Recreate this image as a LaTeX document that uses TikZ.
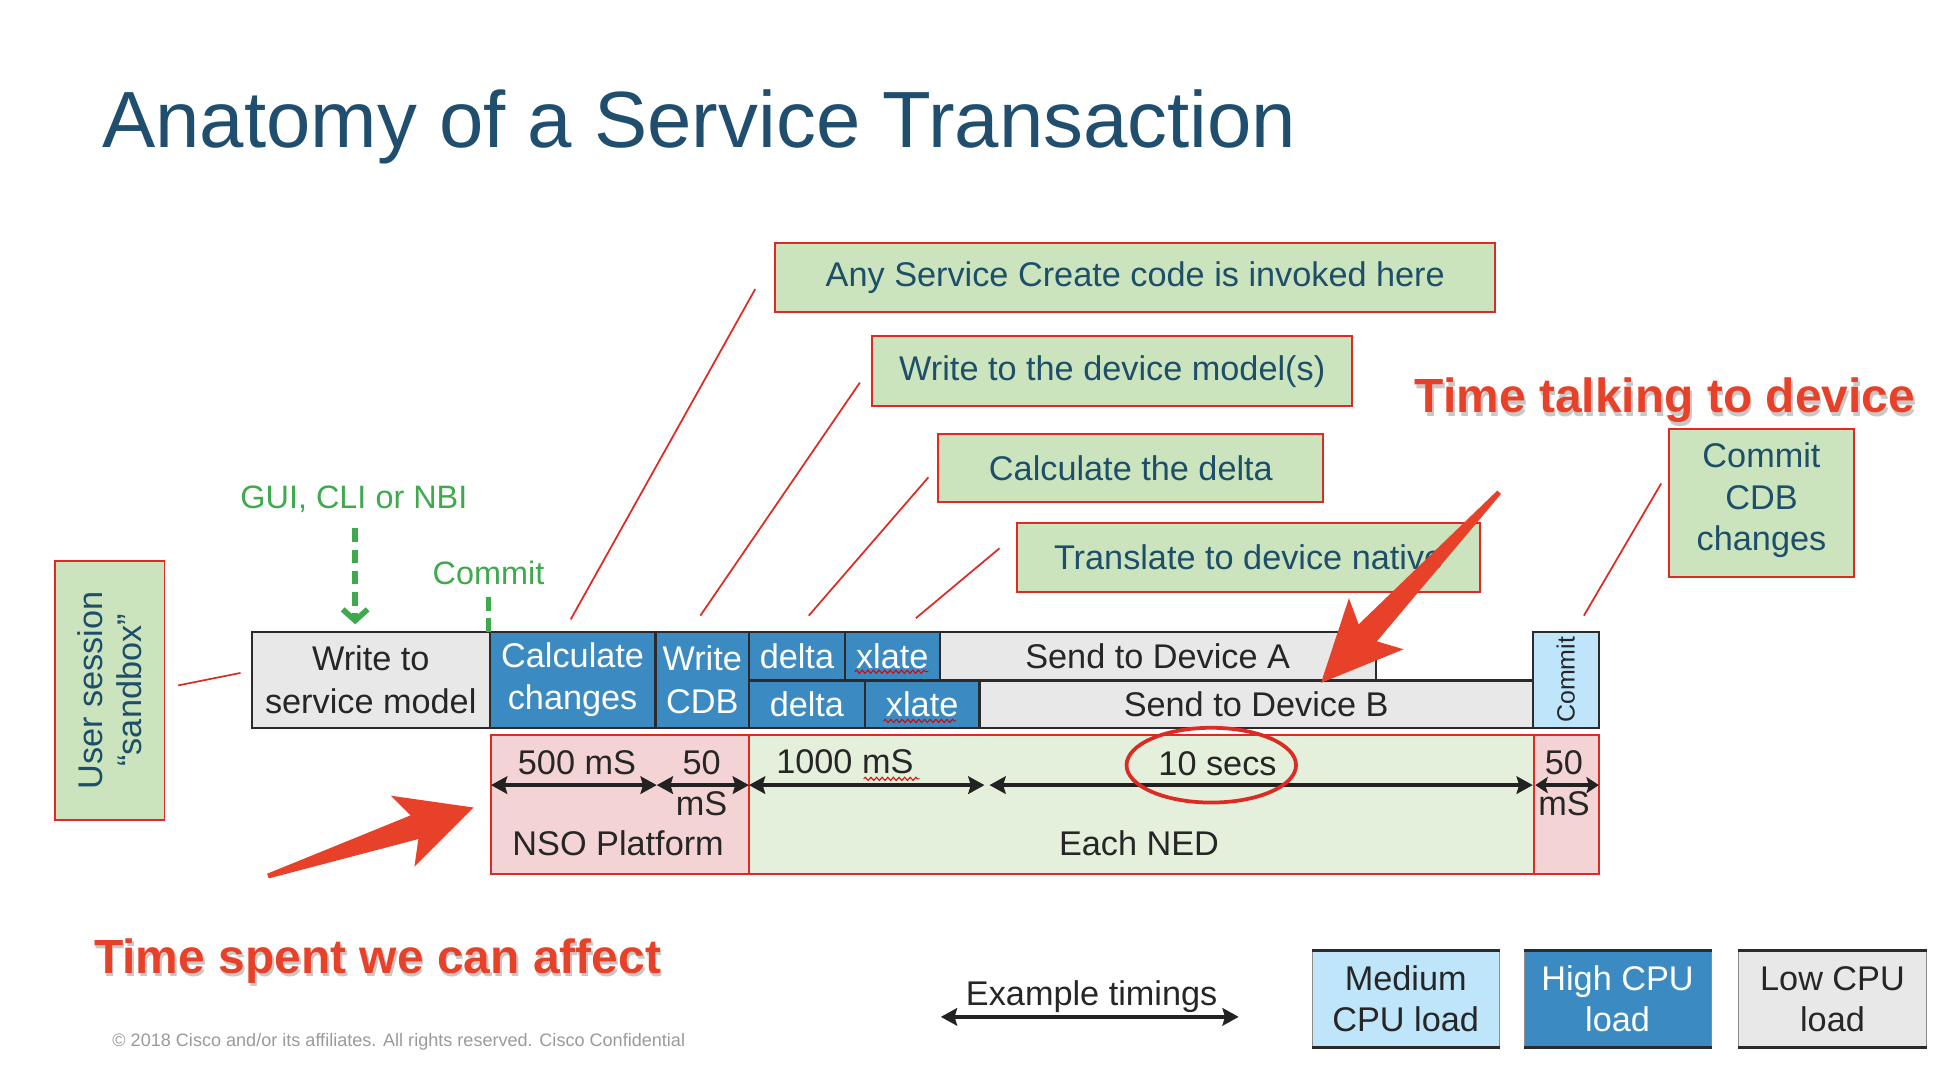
\documentclass[tikz,border=0pt]{standalone}
\usepackage{fontspec}
\usepackage{pdfrender}
\setmainfont{Liberation Sans}
\usetikzlibrary{arrows.meta,calc,decorations.pathmorphing,shapes.geometric}

\definecolor{titleblue}{HTML}{1F4E6E}
\definecolor{calloutgreen}{HTML}{CBE4BD}
\definecolor{calloutred}{HTML}{DD2A22}
\definecolor{callouttext}{HTML}{1D4F6A}
\definecolor{cpuhigh}{HTML}{3B8BC2}
\definecolor{cpumed}{HTML}{BEE5F9}
\definecolor{cpulow}{HTML}{E8E8E8}
\definecolor{boxline}{HTML}{2B2B2B}
\definecolor{panelpink}{HTML}{F3D3D3}
\definecolor{panelgreen}{HTML}{E4F0DB}
\definecolor{guigreen}{HTML}{3FA94D}
\definecolor{arrowred}{HTML}{E8412A}
\definecolor{timeblack}{HTML}{222222}
\definecolor{legalgrey}{HTML}{9A9A9A}
\definecolor{haloshadow}{HTML}{C8C8C8}

\newcommand\fsz[2]{\fontsize{#1}{#2}\selectfont}

% tapered red pointer: tail, tip, head length, notch distance, head half width, shaft half width
\newcommand\bigredarrow[6]{%
  \fill[arrowred]
    ($(#1)!2pt!90:(#2)$) --
    ($(#2)!#4!(#1)!#6!90:(#2)$) --
    ($(#2)!#3!(#1)!#5!90:(#2)$) --
    (#2) --
    ($(#2)!#3!(#1)!#5!-90:(#2)$) --
    ($(#2)!#4!(#1)!#6!-90:(#2)$) --
    ($(#1)!2pt!-90:(#2)$) -- cycle;}

% bold red lettering with a white halo and soft drop shadow
\newcommand\halotext[3]{%
  \node[halofont,text=haloshadow,xshift=1.5pt,yshift=-3pt] at #2
    {\textpdfrender{TextRenderingMode=FillStroke,LineWidth=7pt,LineJoin=1,StrokeColor=haloshadow}{#3}};
  \node[halofont,text=white] at #2
    {\textpdfrender{TextRenderingMode=FillStroke,LineWidth=7pt,LineJoin=1,StrokeColor=white}{#3}};
  \node[halofont,text=arrowred] (#1) at #2 {#3};}

\begin{document}
\begin{tikzpicture}[x=1pt,y=-1pt,
  callout/.style={draw=calloutred, line width=1.6pt, fill=calloutgreen,
    text=callouttext, font=\fsz{27.5}{33}, align=center, inner sep=0pt},
  leader/.style={draw=calloutred, line width=1.4pt},
  procbox/.style={draw=boxline, line width=1.8pt, inner sep=0pt,
    font=\fsz{27.5}{34}, align=center},
  lowbox/.style={procbox, fill=cpulow, text=black!85},
  highbox/.style={procbox, fill=cpuhigh, text=white},
  medbox/.style={procbox, fill=cpumed, text=black!85},
  timetext/.style={font=\fsz{27.5}{33}, text=black!85, inner sep=0pt},
  timearrow/.style={draw=timeblack, line width=3pt,
    {Stealth[length=13pt,width=14pt,inset=2pt]}-{Stealth[length=13pt,width=14pt,inset=2pt]}},
  halofont/.style={font=\fsz{38.5}{44}\bfseries, inner sep=0pt},
  squiggle/.style={draw=red!85!black, line width=0.8pt, decorate,
    decoration={snake, amplitude=1.3pt, segment length=4.5pt}},
  legendbox/.style={inner sep=0pt, font=\fsz{27.5}{33}, align=center,
    minimum width=150pt, minimum height=77pt, draw=black!45, line width=0.8pt},
]
\useasboundingbox (0,0) rectangle (1568,863);

% ---- title ----
\node[anchor=base west, inner sep=0pt, text=titleblue, font=\fsz{64}{72}]
  (title) at (82,118) {Anatomy of a Service Transaction};

% ---- callouts ----
\node[callout, minimum width=578pt, minimum height=55pt] (cCreate) at (911,222.5)
  {Any Service Create code is invoked here};
\node[callout, minimum width=385pt, minimum height=56pt] (cWrite) at (892.5,298)
  {Write to the device model(s)};
\node[callout, minimum width=309pt, minimum height=55pt] (cDelta) at (907.5,375.5)
  {Calculate the delta};
\node[callout, minimum width=372pt, minimum height=55pt] (cXlate) at (1002,447.5)
  {Translate to device native};
\node[callout, minimum width=149pt, minimum height=119pt, text depth=10pt] (cCommit) at (1413.5,403.5)
  {Commit\\CDB\\changes};
\node[callout, rotate=90, minimum width=208pt, minimum height=88pt, font=\fsz{27.5}{31}]
  (cSession) at (88,554) {User session\\“sandbox”};

% ---- process row ----
\node[lowbox, minimum width=191pt, minimum height=77pt] (pService) at (297.5,545.5)
  {Write to\\service model};
\node[highbox, minimum width=133pt, minimum height=77pt] (pCalc) at (459.5,545.5)
  {Calculate\\changes};
\node[highbox, minimum width=75pt, minimum height=77pt] (pCdb) at (563.5,545.5)
  {Write\\CDB};
\node[highbox, minimum width=77pt, minimum height=39pt] (pDeltaA) at (639.5,526.5) {delta};
\node[highbox, minimum width=76pt, minimum height=39pt] (pXlateA) at (716,526.5) {xlate};
\node[lowbox, minimum width=350pt, minimum height=39pt] (pSendA) at (929,526.5) {Send to Device A};
\node[highbox, minimum width=93pt, minimum height=38pt] (pDeltaB) at (647.5,565) {delta};
\node[highbox, minimum width=92pt, minimum height=38pt] (pXlateB) at (740,565) {xlate};
\node[lowbox, minimum width=444pt, minimum height=38pt] (pSendB) at (1008,565) {Send to Device B};
\node[medbox, minimum width=53pt, minimum height=77pt] (pCommit) at (1256.5,545.5) {};
\node[rotate=90, font=\fsz{20}{24}, text=black!85] (pCommitText) at (1256.5,545.5) {Commit};

% spell-check marks under the abbreviations
\draw[squiggle] (686,539) -- (745,539);
\draw[squiggle] (709,578.5) -- (767,578.5);

% ---- timing panel ----
\node[draw=calloutred, line width=1.6pt, fill=panelpink, minimum width=207pt,
  minimum height=111pt, inner sep=0pt] (tNso) at (497.5,645.5) {};
\node[draw=calloutred, line width=1.6pt, fill=panelgreen, minimum width=630pt,
  minimum height=111pt, inner sep=0pt] (tNed) at (916,645.5) {};
\node[draw=calloutred, line width=1.6pt, fill=panelpink, minimum width=52pt,
  minimum height=111pt, inner sep=0pt] (tCommit) at (1257,645.5) {};

\coordinate (a0) at (394,630);
\coordinate (a1) at (527,630);
\coordinate (a2) at (601,630);
\coordinate (a3) at (790,630);
\coordinate (a3b) at (794,630);
\coordinate (a4) at (1230,630);
\coordinate (a4b) at (1232,630);
\coordinate (a5) at (1283,630);
\draw[timearrow] (a0) -- (a1);
\draw[timearrow] (a1) -- (a2);
\draw[timearrow] (a2) -- (a3);
\draw[timearrow] (a3b) -- (a4);
\draw[timearrow, {Stealth[length=10pt,width=13pt,inset=2pt]}-{Stealth[length=10pt,width=13pt,inset=2pt]}] (a4b) -- (a5);

\node[timetext] (t500) at (463,612) {500 mS};
\node[timetext] (t50a) at (563,612) {50};
\node[timetext] (t50b) at (563,645) {mS};
\node[timetext] (t1000) at (678,611) {1000 mS};
\draw[squiggle] (693,625) -- (738,625);
\node[timetext] (t10) at (977,613) {10 secs};
\node[draw=calloutred, line width=3pt, ellipse, minimum width=136pt,
  minimum height=60pt, inner sep=0pt] (tRing) at (972,614) {};
\node[timetext] (t50c) at (1255,612) {50};
\node[timetext] (t50d) at (1255,645) {mS};
\node[timetext] (tNsoLbl) at (496,677) {NSO Platform};
\node[timetext] (tNedLbl) at (914,677) {Each NED};

% ---- entry points ----
\node[text=guigreen, font=\fsz{26}{30}, inner sep=0pt] (gui) at (284,401) {GUI, CLI or NBI};
\coordinate (guiA) at (285,424);
\coordinate (guiB) at (285,501);
\draw[guigreen, line width=4.5pt, dash pattern=on 11pt off 6pt,
  -{Straight Barb[length=9pt,width=20pt]}] (guiA) -- (guiB);
\node[text=guigreen, font=\fsz{26}{30}, inner sep=0pt] (commitLbl) at (392,460) {Commit};
\coordinate (cmA) at (392,479);
\coordinate (cmB) at (392,507);
\draw[guigreen, line width=4.5pt, dash pattern=on 11pt off 6pt] (cmA) -- (cmB);

% ---- leader lines ----
\coordinate (l1a) at (606,232);  \coordinate (l1b) at (458,497);
\coordinate (l2a) at (690,307);  \coordinate (l2b) at (562,494);
\coordinate (l3a) at (745,383);  \coordinate (l3b) at (649,494);
\coordinate (l4a) at (802,440);  \coordinate (l4b) at (735,496);
\coordinate (l5a) at (1333,388); \coordinate (l5b) at (1271,494);
\coordinate (l6a) at (193,540);  \coordinate (l6b) at (143,550);
\draw[leader] (l1a) -- (l1b);
\draw[leader] (l2a) -- (l2b);
\draw[leader] (l3a) -- (l3b);
\draw[leader] (l4a) -- (l4b);
\draw[leader] (l5a) -- (l5b);
\draw[leader] (l6a) -- (l6b);

% ---- big red pointers ----
\coordinate (rA0) at (215,703);
\coordinate (rA1) at (380,648);
\bigredarrow{rA0}{rA1}{60pt}{50pt}{30pt}{10pt}
\coordinate (rB0) at (1203,395);
\coordinate (rB1) at (1060,548);
\bigredarrow{rB0}{rB1}{65pt}{55pt}{30pt}{10pt}

\halotext{hTalk}{(1336,321)}{Time talking to device}
\halotext{hAffect}{(303,771)}{Time spent we can affect}

% ---- legend ----
\node[timetext] (exLbl) at (876,800) {Example timings};
\coordinate (exA) at (755,816);
\coordinate (exB) at (994,816);
\draw[timearrow] (exA) -- (exB);

\node[legendbox, fill=cpumed, text=black!85] (lgMed) at (1128,801.5) {Medium\\CPU load};
\node[legendbox, fill=cpuhigh, text=white] (lgHigh) at (1298,801.5) {High CPU\\load};
\node[legendbox, fill=cpulow, text=black!85, minimum width=151pt] (lgLow) at (1470.5,801.5) {Low CPU\\load};
\foreach \b in {lgMed,lgHigh,lgLow}{
  \draw[boxline, line width=2.6pt] (\b.north west) -- (\b.north east);
  \draw[boxline, line width=2.6pt] (\b.south west) -- (\b.south east);
}

\node[text=legalgrey, font=\fsz{14.5}{17}, inner sep=0pt] (legal) at (320,836)
  {© 2018 Cisco and/or its affiliates. All rights reserved. Cisco Confidential};
\end{tikzpicture}
\end{document}
